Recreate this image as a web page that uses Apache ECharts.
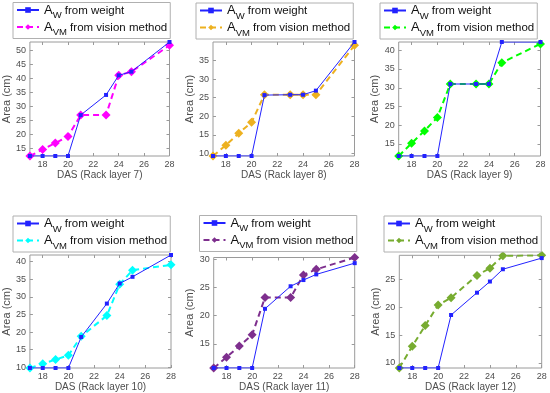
<!DOCTYPE html>
<html><head><meta charset="utf-8">
<script src="https://cdn.jsdelivr.net/npm/echarts@6/dist/echarts.min.js"></script>
<style>html,body{margin:0;padding:0;background:#fff}#c{width:550px;height:393px}</style>
</head><body><div id="c"></div>
<script>
// ---- data ----
const das = [17, 18, 19, 20, 21, 23, 24, 25, 28];
const layers = [7, 8, 9, 10, 11, 12];
const aw7  = [12.2, 12.2, 12.2, 12.2, 26.8, 34.0, 41.0, 42.3, 52.9];
const avm7 = [12.2, 14.5, 16.8, 19.2, 26.8, 26.8, 41.0, 42.3, 51.7];
const aw8  = [9.3, 9.3, 9.3, 9.3, 25.7, 25.8, 25.8, 26.9, 40.0];
const avm8 = [9.3, 12.2, 15.4, 18.4, 25.8, 25.8, 25.8, 25.8, 39.1];
const aw9  = [11.8, 11.8, 11.8, 11.8, 31.0, 31.0, 31.0, 42.2, 42.2];
const avm9 = [11.8, 15.2, 18.5, 22.1, 31.0, 31.0, 31.0, 36.7, 41.7];
const aw10  = [9.8, 9.8, 9.8, 9.8, 18.6, 28.1, 33.8, 35.7, 41.9];
const avm10 = [9.8, 11.0, 12.2, 13.4, 18.8, 24.7, 33.6, 37.6, 39.1];
const aw11  = [10.7, 10.7, 10.7, 10.7, 21.2, 25.2, 26.3, 27.3, 29.3];
const avm11 = [10.7, 12.6, 14.6, 16.6, 23.2, 23.2, 27.2, 28.2, 30.3];
const aw12  = [9.1, 9.1, 9.1, 9.1, 18.6, 22.6, 24.6, 26.8, 28.8];
const avm12 = [9.1, 13.0, 16.7, 20.4, 21.7, 25.7, 27.0, 29.2, 29.3];
const awSets = [aw7, aw8, aw9, aw10, aw11, aw12];
const avmSets = [avm7, avm8, avm9, avm10, avm11, avm12];
const xTicks = [18, 20, 22, 24, 26, 28];
const yTicks = [
  [15, 20, 25, 30, 35, 40, 45, 50],
  [10, 15, 20, 25, 30, 35],
  [15, 20, 25, 30, 35, 40],
  [10, 15, 20, 25, 30, 35, 40],
  [15, 20, 25, 30],
  [10, 15, 20, 25]
];
const vmColors = ['#ff00ff', '#edb120', '#00ff00', '#00ffff', '#7e2f8e', '#77ac30'];
const awColor = '#2222ff';
const nameW = 'A_W from weight';
const nameVM = 'A_VM from vision method';

// ---- layout ----
const grids = [
  {l: 28.5, r: 169.5, t: 42, b: 156},
  {l: 213, r: 354.5, t: 42, b: 156},
  {l: 398.7, r: 540.5, t: 42, b: 156},
  {l: 29, r: 171, t: 255, b: 368.7},
  {l: 213.7, r: 354.7, t: 257.5, b: 368.7},
  {l: 399.3, r: 541.7, t: 255.3, b: 368.7}
];
const legPos = [
  {x: 13, y: 2.5}, {x: 196, y: 3}, {x: 380, y: 3},
  {x: 13, y: 216}, {x: 199.5, y: 215.5}, {x: 384, y: 216}
];
const frame = '#9a9a9a';
const lblColor = '#4d4d4d';

const option = {
  animation: false,
  backgroundColor: '#fff',
  grid: [], xAxis: [], yAxis: [], series: [], legend: []
};

layers.forEach((ly, i) => {
  const g = grids[i];
  const aw = awSets[i], avm = avmSets[i];
  const all = aw.concat(avm);
  const ymin = Math.min(...all), ymax = Math.max(...all);
  option.grid.push({
    left: g.l, top: g.t, width: g.r - g.l, height: g.b - g.t,
    show: true, borderColor: frame, borderWidth: 1, containLabel: false
  });
  const xBase = {
    type: 'value', gridIndex: i, min: 17, max: 28,
    splitLine: {show: false},
    axisLine: {show: false}
  };
  option.xAxis.push(Object.assign({}, xBase, {
    position: 'bottom',
    name: 'DAS (Rack layer ' + ly + ')', nameLocation: 'middle', nameGap: 14,
    nameTextStyle: {fontSize: 10, color: lblColor, fontFamily: 'Liberation Sans'},
    axisTick: {show: true, inside: true, length: 3, lineStyle: {color: frame}, customValues: xTicks},
    axisLabel: {fontSize: 9, color: lblColor, margin: 4, fontFamily: 'Liberation Sans', customValues: xTicks}
  }));
  option.xAxis.push(Object.assign({}, xBase, {
    position: 'top',
    axisTick: {show: true, inside: true, length: 3, lineStyle: {color: frame}, customValues: xTicks},
    axisLabel: {show: false, customValues: xTicks}
  }));
  const yBase = {
    type: 'value', gridIndex: i, min: ymin, max: ymax,
    splitLine: {show: false}, axisLine: {show: false}
  };
  option.yAxis.push(Object.assign({}, yBase, {
    position: 'left',
    name: 'Area (cm)', nameLocation: 'middle', nameGap: 16, nameRotate: 90,
    nameTextStyle: {fontSize: 11, color: lblColor, fontFamily: 'Liberation Sans'},
    axisTick: {show: true, inside: true, length: 3, lineStyle: {color: frame}, customValues: yTicks[i]},
    axisLabel: {fontSize: 9, color: lblColor, margin: 4, fontFamily: 'Liberation Sans', customValues: yTicks[i]}
  }));
  option.yAxis.push(Object.assign({}, yBase, {
    position: 'right',
    axisTick: {show: true, inside: true, length: 3, lineStyle: {color: frame}, customValues: yTicks[i]},
    axisLabel: {show: false, customValues: yTicks[i]}
  }));
  const nW = nameW + '#' + i, nV = nameVM + '#' + i;
  option.series.push({
    name: nW, type: 'line', xAxisIndex: 2 * i, yAxisIndex: 2 * i,
    data: das.map((d, k) => [d, aw[k]]),
    symbol: 'rect', symbolSize: 4, color: awColor,
    lineStyle: {width: 1, color: awColor}, itemStyle: {color: awColor}, z: 3
  });
  option.series.push({
    name: nV, type: 'line', xAxisIndex: 2 * i, yAxisIndex: 2 * i,
    data: das.map((d, k) => [d, avm[k]]),
    symbol: 'diamond', symbolSize: 9, color: vmColors[i],
    lineStyle: {width: 2, color: vmColors[i], type: [6, 4]}, itemStyle: {color: vmColors[i]}, z: 2
  });
  option.legend.push({
    left: legPos[i].x, top: legPos[i].y, orient: 'vertical',
    data: [nW, nV],
    borderColor: '#b0b0b0', borderWidth: 1, backgroundColor: '#fff',
    padding: [1, 3, 1, 3], itemGap: 0, itemWidth: 22, itemHeight: 7,
    selectedMode: false,
    formatter: function (n) {
      return n.indexOf('A_W') === 0
        ? '{a|A}{s|W}{t| from weight}'
        : '{a|A}{s|VM}{t| from vision method}';
    },
    textStyle: {
      color: '#111',
      rich: {
        a: {fontSize: 13, fontFamily: 'Liberation Sans', color: '#111', verticalAlign: 'bottom'},
        s: {fontSize: 9.5, fontFamily: 'Liberation Sans', color: '#111', verticalAlign: 'bottom', padding: [0, 0, -4, 0]},
        t: {fontSize: 11.5, fontFamily: 'Liberation Sans', color: '#111', verticalAlign: 'bottom'}
      }
    }
  });
});

const chart = echarts.init(document.getElementById('c'), null, {renderer: 'canvas'});
chart.setOption(option);
</script>
</body></html>
